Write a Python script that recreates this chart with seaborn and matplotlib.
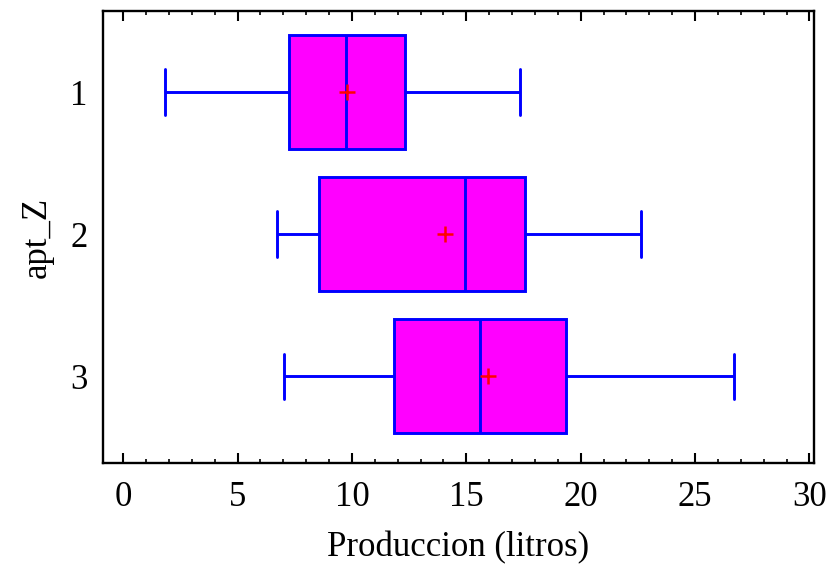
import matplotlib
matplotlib.use("Agg")
import matplotlib.pyplot as plt
from matplotlib.ticker import MultipleLocator
import seaborn as sns
import pandas as pd

# Data (five-number summaries and means)
groups = ["1", "2", "3"]
mins = [1.81, 6.72, 7.05]
q1s = [7.27, 8.54, 11.86]
medians = [9.74, 14.95, 15.61]
q3s = [12.33, 17.55, 19.34]
maxs = [17.33, 22.64, 26.71]
means = [9.78, 14.05, 15.97]

rows = []
for g, a, b, c, d, e in zip(groups, mins, q1s, medians, q3s, maxs):
    for v in (a, b, c, d, e):
        rows.append({"apt_Z": g, "Produccion (litros)": v})
df = pd.DataFrame(rows)

sns.set_theme(style="white")
plt.rcParams["font.family"] = ["Liberation Serif", "DejaVu Serif"]

fig = plt.figure(figsize=(8.28, 5.66), dpi=100)
ax = fig.add_axes([0.1244, 0.182, 0.8587, 0.7986])

sns.boxplot(data=df, x="Produccion (litros)", y="apt_Z", order=groups,
            orient="h", whis=(0, 100), width=0.8, color="#FF00FF",
            saturation=1, linecolor="#0000FF", linewidth=2.1,
            showfliers=False, ax=ax)

# shorten caps
for line in ax.lines:
    ys = line.get_ydata()
    xs = line.get_xdata()
    if len(xs) == 2 and abs(xs[0] - xs[1]) < 1e-9 and abs(ys[1] - ys[0]) > 0.1:
        mid = (ys[0] + ys[1]) / 2
        if abs(ys[1] - ys[0]) < 0.7:
            line.set_ydata([mid - 0.16, mid + 0.16])

ax.plot(means, range(len(groups)), linestyle="none", marker="+",
        color="red", markersize=11, markeredgewidth=1.8, zorder=5)

ax.set_xlim(-0.88, 30.2)
ax.set_ylim(2.61, -0.57)
ax.set_xticks([0, 5, 10, 15, 20, 25, 30])
ax.xaxis.set_minor_locator(MultipleLocator(1))
ax.tick_params(axis="x", which="major", direction="in", length=7, width=1.5,
               top=True, bottom=True, labelsize=25, pad=13, color="black")
ax.tick_params(axis="x", which="minor", direction="in", length=3, width=1.2,
               top=True, bottom=True, color="black")
ax.tick_params(axis="y", which="both", length=0, labelsize=25, pad=11)

for s in ax.spines.values():
    s.set_visible(True)
    s.set_color("black")
    s.set_linewidth(1.7)

ax.set_xlabel("Produccion (litros)", fontsize=25, labelpad=12, color="black")
ax.set_ylabel("apt_Z", fontsize=25, labelpad=12, color="black")
for t in ax.get_xticklabels() + ax.get_yticklabels():
    t.set_color("black")

fig.savefig("out.png", dpi=100)
